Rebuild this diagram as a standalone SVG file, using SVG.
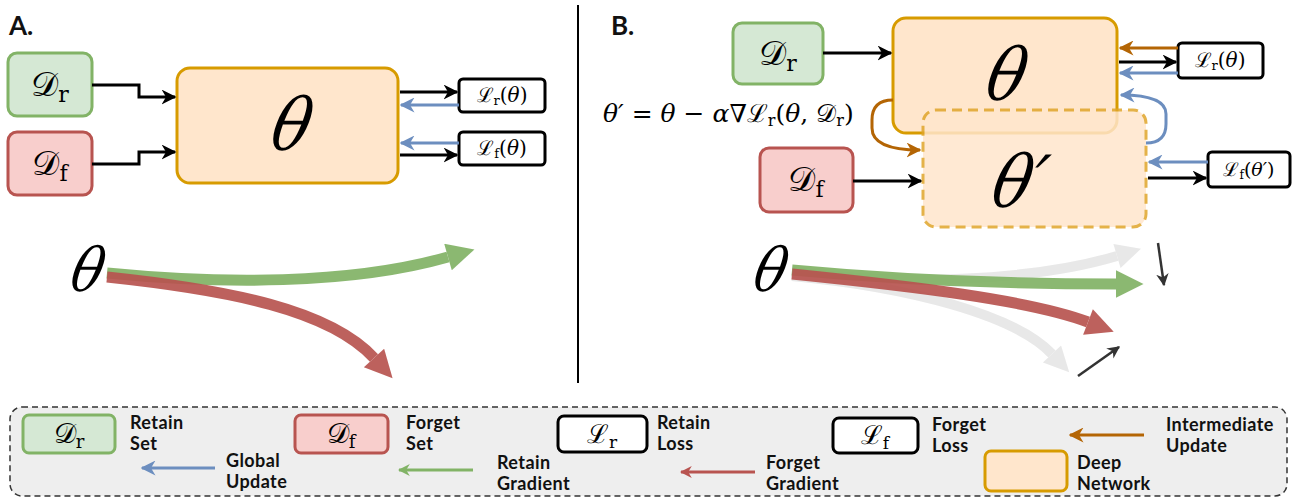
<svg xmlns="http://www.w3.org/2000/svg" width="1296" height="499" viewBox="0 0 1296 499">
<defs>
<style>
.lbl{font-family:"Lato","Open Sans",sans-serif;font-weight:700;fill:#111}
.leg{font-family:"Lato","Open Sans",sans-serif;font-weight:700;font-size:18px;letter-spacing:0.4px;fill:#111}
.math{font-family:"DejaVu Serif","Liberation Serif",serif;fill:#000}
.it{font-family:"DejaVu Serif","Liberation Serif",serif;font-style:italic;fill:#000}
.green{fill:#d5e8d4;stroke:#82b366;stroke-width:3}
.red{fill:#f8cecc;stroke:#b85450;stroke-width:3}
.net{fill:#ffe6cc;stroke:#d79b00;stroke-width:3}
.loss{fill:#fff;stroke:#000;stroke-width:3}
.blk{fill:none;stroke:#000;stroke-width:3;marker-end:url(#hb)}
.blu{fill:none;stroke:#6c8ebf;stroke-width:3;marker-end:url(#hu)}
.brn{fill:none;stroke:#b46504;stroke-width:3;marker-end:url(#ho)}
</style>
<marker id="hb" viewBox="0 0 10 10" refX="9" refY="5" markerWidth="5" markerHeight="5" orient="auto"><path d="M0,0 L10,5 L0,10 L3,5z" fill="#000"/></marker>
<marker id="hu" viewBox="0 0 10 10" refX="9" refY="5" markerWidth="5" markerHeight="5" orient="auto"><path d="M0,0 L10,5 L0,10 L3,5z" fill="#6c8ebf"/></marker>
<marker id="ho" viewBox="0 0 10 10" refX="9" refY="5" markerWidth="5" markerHeight="5" orient="auto"><path d="M0,0 L10,5 L0,10 L3,5z" fill="#b46504"/></marker>
<marker id="hg" viewBox="0 0 10 10" refX="9" refY="5" markerWidth="4" markerHeight="4" orient="auto"><path d="M0,0 L10,5 L0,10 L3,5z" fill="#82b366"/></marker>
<marker id="hr" viewBox="0 0 10 10" refX="9" refY="5" markerWidth="4" markerHeight="4" orient="auto"><path d="M0,0 L10,5 L0,10 L3,5z" fill="#b85450"/></marker>
<marker id="TG" viewBox="0 0 10 10" refX="0" refY="5" markerWidth="3.4" markerHeight="2.5" orient="auto" markerUnits="strokeWidth"><path d="M0,0 L10,5 L0,10z" fill="#82b366"/></marker>
<marker id="TR" viewBox="0 0 10 10" refX="0" refY="5" markerWidth="3.4" markerHeight="2.5" orient="auto" markerUnits="strokeWidth"><path d="M0,0 L10,5 L0,10z" fill="#b85450"/></marker>
<marker id="TY" viewBox="0 0 10 10" refX="0" refY="5" markerWidth="3.4" markerHeight="2.5" orient="auto" markerUnits="strokeWidth"><path d="M0,0 L10,5 L0,10z" fill="#e6e6e6"/></marker>
<marker id="hk" viewBox="0 0 10 10" refX="9" refY="5" markerWidth="5" markerHeight="5" orient="auto"><path d="M0,0 L10,5 L0,10 L3,5z" fill="#333"/></marker>
</defs>
<rect width="1296" height="499" fill="#fff"/>

<text class="lbl" x="9" y="35" font-size="26">A.</text>
<text class="lbl" x="611" y="35" font-size="26">B.</text>
<line x1="578" y1="5" x2="578" y2="383" stroke="#000" stroke-width="2"/>

<!-- Panel A nodes -->
<g id="a-dr"><rect class="green" x="8" y="53" width="84" height="63" rx="9"/><text class="math" x="50" y="96" font-size="34" text-anchor="middle">𝒟<tspan font-size="22" dy="6">r</tspan></text></g>
<g id="a-df"><rect class="red" x="8" y="132" width="84" height="63" rx="9"/><text class="math" x="50" y="175" font-size="34" text-anchor="middle">𝒟<tspan font-size="22" dy="6">f</tspan></text></g>
<g id="a-net"><rect class="net" x="177" y="68" width="221" height="115" rx="13"/><text class="it" transform="translate(287,150) skewX(-12) scale(0.88,1)" font-size="72" text-anchor="middle">θ</text></g>
<g id="a-lr"><rect class="loss" x="459" y="79" width="86" height="33" rx="4"/><text class="math" x="502" y="102" font-size="20" text-anchor="middle">ℒ<tspan font-size="13" dy="3">r</tspan><tspan dy="-3">(</tspan><tspan class="it">θ</tspan>)</text></g>
<g id="a-lf"><rect class="loss" x="459" y="132" width="86" height="33" rx="4"/><text class="math" x="502" y="155" font-size="20" text-anchor="middle">ℒ<tspan font-size="13" dy="3">f</tspan><tspan dy="-3">(</tspan><tspan class="it">θ</tspan>)</text></g>
<g id="a-theta"><text class="it" transform="translate(84,291) skewX(-12) scale(0.88,1)" font-size="60" text-anchor="middle">θ</text></g>

<!-- Panel B nodes -->
<g id="b-dr"><rect class="green" x="733" y="23" width="90" height="61" rx="9"/><text class="math" x="778" y="65" font-size="34" text-anchor="middle">𝒟<tspan font-size="22" dy="6">r</tspan></text></g>
<g id="b-df"><rect class="red" x="760" y="148" width="93" height="64" rx="9"/><text class="math" x="806" y="191" font-size="34" text-anchor="middle">𝒟<tspan font-size="22" dy="6">f</tspan></text></g>
<g id="b-net"><rect class="net" x="893" y="18" width="224" height="115" rx="13"/><text class="it" transform="translate(1002,100) skewX(-12) scale(0.88,1)" font-size="72" text-anchor="middle">θ</text></g>
<g id="b-net2" opacity="0.85"><rect x="923" y="110" width="223" height="117" rx="13" fill="#ffe6cc" stroke="#e0a52a" stroke-width="3" stroke-dasharray="10 6"/></g>
<g id="b-net2-label"><text class="it" transform="translate(1015,207) skewX(-12) scale(0.88,1)" font-size="72" text-anchor="middle">θ′</text></g>
<g id="b-lr"><rect class="loss" x="1178" y="43" width="85" height="35" rx="4"/><text class="math" x="1220" y="67" font-size="20" text-anchor="middle">ℒ<tspan font-size="13" dy="3">r</tspan><tspan dy="-3">(</tspan><tspan class="it">θ</tspan>)</text></g>
<g id="b-lf"><rect class="loss" x="1208" y="152" width="82" height="35" rx="4"/><text class="math" x="1249" y="176" font-size="19" text-anchor="middle">ℒ<tspan font-size="12" dy="3">f</tspan><tspan dy="-3">(</tspan><tspan class="it">θ′</tspan>)</text></g>
<g id="b-eq"><text class="math" x="603" y="122" font-size="25"><tspan class="it">θ′</tspan> = <tspan class="it">θ</tspan> − <tspan class="it">α</tspan>∇ℒ<tspan font-size="16" dy="4">r</tspan><tspan dy="-4">(</tspan><tspan class="it">θ</tspan>, 𝒟<tspan font-size="16" dy="4">r</tspan><tspan dy="-4">)</tspan></text></g>
<g id="b-theta"><text class="it" transform="translate(767,291) skewX(-12) scale(0.88,1)" font-size="60" text-anchor="middle">θ</text></g>

<!-- connectors -->
<g id="connectors">
<path class="blk" d="M92,85 H139 V97 H175"/>
<path class="blk" d="M92,164 H139 V152 H175"/>
<path class="blk" d="M400,92 H457"/>
<path class="blu" d="M459,105 H401"/>
<path class="blu" d="M459,143 H401"/>
<path class="blk" d="M400,155 H457"/>
<path class="blk" d="M823,53 H891"/>
<path class="blk" d="M853,181 H921"/>
<path class="brn" d="M1178,48 H1120"/>
<path class="blk" d="M1119,62 H1176"/>
<path class="blu" d="M1178,73 H1120"/>
<path class="blu" d="M1146,143 Q1166,143 1166,124 V114 Q1166,95 1121,95"/>
<path class="brn" d="M893,100 Q872,100 872,120 V128 Q872,150 920,150"/>
<path class="blu" d="M1208,162 H1149"/>
<path class="blk" d="M1148,178 H1206"/>

<g opacity="0.92"><path d="M107,273 C220,284 350,285 448,257" fill="none" stroke="#82b366" stroke-width="11" marker-end="url(#TG)"/></g>
<g opacity="0.92"><path d="M107,277 C230,290 330,310 374,358" fill="none" stroke="#b85450" stroke-width="11" marker-end="url(#TR)"/></g>

<g opacity="0.9"><path d="M792,272 C900,285 1030,282 1117,256" fill="none" stroke="#e6e6e6" stroke-width="10" marker-end="url(#TY)"/></g>
<g opacity="0.9"><path d="M792,276 C910,287 1015,315 1052,354" fill="none" stroke="#e6e6e6" stroke-width="10" marker-end="url(#TY)"/></g>
<g opacity="0.92"><path d="M792,270 C900,280 1000,284 1116,284" fill="none" stroke="#82b366" stroke-width="11" marker-end="url(#TG)"/></g>
<g opacity="0.92"><path d="M792,274 C910,286 1030,300 1088,322" fill="none" stroke="#b85450" stroke-width="11" marker-end="url(#TR)"/></g>
<line x1="1158" y1="243" x2="1164" y2="285" stroke="#333" stroke-width="2.5" marker-end="url(#hk)"/>
<line x1="1078" y1="376" x2="1119" y2="347" stroke="#333" stroke-width="2.5" marker-end="url(#hk)"/>
</g>

<!-- legend -->
<g id="legend">
<rect x="10" y="407" width="1277" height="89" rx="12" fill="#eeeeee" stroke="#333" stroke-width="1.5" stroke-dasharray="6 4"/>
<g id="leg-dr"><rect class="green" x="23" y="415" width="92" height="38" rx="6"/><text class="math" x="69" y="443" font-size="28" text-anchor="middle">𝒟<tspan font-size="18" dy="5">r</tspan></text></g>
<text class="leg" x="130" y="429">Retain<tspan x="130" dy="21">Set</tspan></text>
<path d="M215,468 H142" fill="none" stroke="#6c8ebf" stroke-width="3" marker-end="url(#hu)"/>
<text class="leg" x="226" y="467">Global<tspan x="226" dy="21">Update</tspan></text>
<g id="leg-df"><rect class="red" x="295" y="415" width="93" height="38" rx="6"/><text class="math" x="341" y="443" font-size="28" text-anchor="middle">𝒟<tspan font-size="18" dy="5">f</tspan></text></g>
<text class="leg" x="406" y="429">Forget<tspan x="406" dy="21">Set</tspan></text>
<path d="M473,470 H399" fill="none" stroke="#82b366" stroke-width="3" marker-end="url(#hg)"/>
<text class="leg" x="497" y="469">Retain<tspan x="497" dy="21">Gradient</tspan></text>
<g id="leg-lr"><rect class="loss" x="558" y="416" width="89" height="36" rx="6"/><text class="math" x="602" y="443" font-size="26" text-anchor="middle">ℒ<tspan font-size="17" dy="5">r</tspan></text></g>
<text class="leg" x="657" y="429">Retain<tspan x="657" dy="21">Loss</tspan></text>
<path d="M755,472 H681" fill="none" stroke="#b85450" stroke-width="3" marker-end="url(#hr)"/>
<text class="leg" x="766" y="469">Forget<tspan x="766" dy="21">Gradient</tspan></text>
<g id="leg-lf"><rect class="loss" x="833" y="418" width="85" height="35" rx="6"/><text class="math" x="875" y="444" font-size="26" text-anchor="middle">ℒ<tspan font-size="17" dy="5">f</tspan></text></g>
<text class="leg" x="932" y="431">Forget<tspan x="932" dy="21">Loss</tspan></text>
<g id="leg-net"><rect class="net" x="985" y="451" width="82" height="40" rx="6"/></g>
<text class="leg" x="1077" y="469">Deep<tspan x="1077" dy="21">Network</tspan></text>
<path d="M1144,435 H1070" fill="none" stroke="#b46504" stroke-width="3" marker-end="url(#ho)"/>
<text class="leg" x="1166" y="431">Intermediate<tspan x="1166" dy="21">Update</tspan></text>
</g>
</svg>
